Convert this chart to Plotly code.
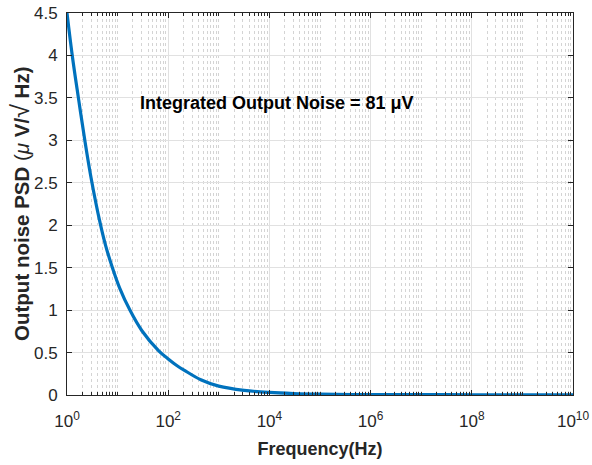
import plotly.graph_objects as go

# Values
freq_hz = [1, 1.27, 1.68, 2.25, 3.05, 4.5, 5.8, 7.7, 11, 17.5, 30, 65, 100, 150,
           210, 440, 1000, 3160, 1e4, 3e4, 1e5, 1e6, 1e7, 1e8, 1e9, 1e10]
psd_uv = [4.5, 4.0, 3.5, 3.0, 2.53, 2.03, 1.76, 1.52, 1.26, 1.0, 0.76, 0.52, 0.425, 0.345,
          0.29, 0.18, 0.105, 0.055, 0.03, 0.017, 0.01, 0.005, 0.004, 0.003, 0.003, 0.003]

x_tick_vals = [1e0, 1e2, 1e4, 1e6, 1e8, 1e10]
x_tick_text = ["10<sup>0</sup>", "10<sup>2</sup>", "10<sup>4</sup>",
               "10<sup>6</sup>", "10<sup>8</sup>", "10<sup>10</sup>"]
y_tick_vals = [0, 0.5, 1, 1.5, 2, 2.5, 3, 3.5, 4, 4.5]
y_tick_text = ["0", "0.5", "1", "1.5", "2", "2.5", "3", "3.5", "4", "4.5"]

annotation_text = "Integrated Output Noise = 81 μV"
x_title = "Frequency(Hz)"
y_title = ("<b>Output noise PSD </b>(<i>μ</i> <b>V/</b>"
           "<span style='font-size:25px'>√</span> <b>Hz)</b>")

minor_vals = [m * 10 ** d for d in range(10) for m in range(2, 10)] + [10 ** d for d in (1, 3, 5, 7, 9)]

axis_color = "#262626"
fig = go.Figure()
fig.add_trace(go.Scatter(
    x=freq_hz, y=psd_uv, mode="lines",
    line=dict(color="#0072BD", width=3.2, shape="spline", smoothing=1.0),
    showlegend=False,
))

fig.update_layout(
    width=592, height=465,
    margin=dict(l=67, r=19, t=13, b=70),
    paper_bgcolor="white", plot_bgcolor="white",
    font=dict(family="Liberation Sans, Arial, sans-serif", color=axis_color, size=17),
    xaxis=dict(
        type="log", range=[0, 10], automargin=False,
        tickmode="array", tickvals=x_tick_vals, ticktext=x_tick_text,
        ticks="inside", ticklen=5, tickcolor=axis_color,
        showline=True, linecolor=axis_color, linewidth=1, mirror="allticks",
        showgrid=True, gridcolor="#e1e1e1", gridwidth=1,
        zeroline=False,
        tickfont=dict(size=17, color=axis_color),
        ticklabelstandoff=11,
        title=dict(text="<b>" + x_title + "</b>", font=dict(size=18, color=axis_color), standoff=11),
        minor=dict(tickmode="array", tickvals=minor_vals, ticks="inside", ticklen=3,
                   tickcolor=axis_color, showgrid=True, gridcolor="#d4d4d4",
                   griddash="dot", gridwidth=1),
    ),
    yaxis=dict(
        range=[0, 4.5], automargin=False,
        tickmode="array", tickvals=y_tick_vals, ticktext=y_tick_text,
        ticks="inside", ticklen=5, tickcolor=axis_color,
        showline=True, linecolor=axis_color, linewidth=1, mirror="allticks",
        showgrid=True, gridcolor="#e1e1e1", gridwidth=1,
        zeroline=False,
        tickfont=dict(size=17, color=axis_color),
        ticklabelstandoff=5,
    ),
)

# y-axis title as rotated annotation (centred on the plot height)
fig.add_annotation(
    x=-0.093, y=0.5, xref="paper", yref="paper", textangle=-90,
    text=y_title, showarrow=False, xanchor="center", yanchor="middle",
    font=dict(size=20.5, color=axis_color),
)

fig.add_annotation(
    x=0.415, y=0.795, xref="paper", yref="paper",
    text="<b>" + annotation_text + "</b>", showarrow=False,
    font=dict(size=18, color="black"),
)

fig.write_html("out.html", config={"displayModeBar": False},
               post_script="document.body.style.margin='0';")
